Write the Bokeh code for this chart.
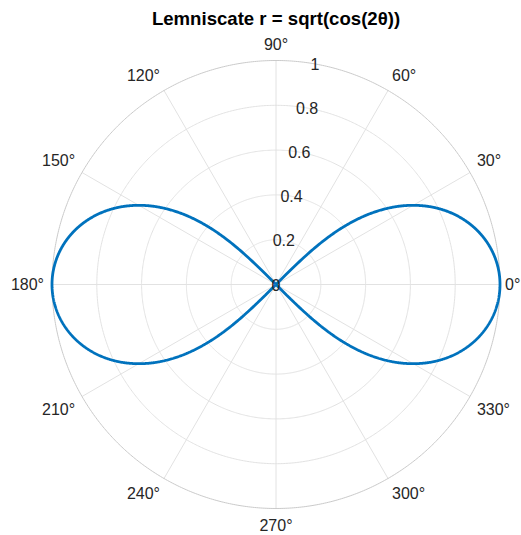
import numpy as np
from bokeh.plotting import figure
from bokeh.models import ColumnDataSource
from bokeh.core.properties import value
from bokeh.embed import file_html
from bokeh.resources import INLINE

# ---- data ----
title_text = "Lemniscate r = sqrt(cos(2\u03b8))"
theta_ticks_deg = [0, 30, 60, 90, 120, 150, 180, 210, 240, 270, 300, 330]
theta_tick_labels = ["0\u00b0", "30\u00b0", "60\u00b0", "90\u00b0", "120\u00b0", "150\u00b0",
                     "180\u00b0", "210\u00b0", "240\u00b0", "270\u00b0", "300\u00b0", "330\u00b0"]
r_ticks = [0, 0.2, 0.4, 0.6, 0.8, 1.0]
r_tick_labels = ["0", "0.2", "0.4", "0.6", "0.8", "1"]
r_label_angle_deg = 80
r_max = 1.0

# curve as defined by the title: r = sqrt(cos(2θ)) where cos(2θ) >= 0
lobe1_theta = np.linspace(-np.pi / 4, np.pi / 4, 721)
lobe2_theta = np.linspace(3 * np.pi / 4, 5 * np.pi / 4, 721)

def lobe_xy(th):
    r = np.sqrt(np.clip(np.cos(2 * th), 0, None))
    return r * np.cos(th), r * np.sin(th)

# ---- geometry (pixels) ----
W, H = 521, 535
cx_px, cy_px = 275.5, 284.0   # centre inside the figure (from top-left)
R_px = 224.0
font = "Liberation Sans"
txt_color = "#262626"

p = figure(width=W, height=H, output_backend="svg", toolbar_location=None,
           x_range=(-cx_px / R_px, (W - cx_px) / R_px),
           y_range=(-(H - cy_px) / R_px, cy_px / R_px),
           min_border=0, min_border_left=0, min_border_right=0,
           min_border_top=0, min_border_bottom=0)
p.axis.visible = False
p.grid.visible = False
p.outline_line_color = None
p.background_fill_color = "white"
p.border_fill_color = "white"

# radial grid lines
for d in theta_ticks_deg:
    t = np.deg2rad(d)
    p.line([0, r_max * np.cos(t)], [0, r_max * np.sin(t)], line_color="#e2e2e2", line_width=1)

# circles
circ_t = np.linspace(0, 2 * np.pi, 721)
for rv in r_ticks[1:-1]:
    p.line(rv * np.cos(circ_t), rv * np.sin(circ_t), line_color="#e2e2e2", line_width=1)
p.line(r_max * np.cos(circ_t), r_max * np.sin(circ_t), line_color="#cacaca", line_width=1)

# curve
for th in (lobe1_theta, lobe2_theta):
    x, y = lobe_xy(th)
    p.line(x, y, line_color="#0072BD", line_width=2.8)

# angular labels
tx, ty, ta, tb = [], [], [], []
for d in theta_ticks_deg:
    t = np.deg2rad(d)
    c, s = np.cos(t), np.sin(t)
    off = (5.0 if d == 0 else 8.0) / R_px
    tx.append((r_max + off) * c)
    ty.append((r_max + off) * s)
    ta.append("left" if c > 0.01 else ("right" if c < -0.01 else "center"))
    tb.append("bottom" if s > 0.01 else ("top" if s < -0.01 else "middle"))
src = ColumnDataSource(dict(x=tx, y=ty, text=theta_tick_labels, align=ta, base=tb))
p.text(x="x", y="y", text="text", source=src, text_align="align", text_baseline="base",
       text_font=value(font), text_font_size="16px", text_color=txt_color)

# radial labels
ra = np.deg2rad(r_label_angle_deg)
rsrc = ColumnDataSource(dict(x=[rv * np.cos(ra) for rv in r_ticks],
                             y=[rv * np.sin(ra) for rv in r_ticks],
                             text=r_tick_labels))
p.text(x="x", y="y", text="text", source=rsrc, text_align="center", text_baseline="middle",
       text_font=value(font), text_font_size="16px", text_color=txt_color)

# title
p.text(x=[0.0], y=[(cy_px - 18) / R_px], text=[title_text],
       text_align="center", text_baseline="middle", text_font=value(font),
       text_font_size="18.6px", text_font_style="bold", text_color="black")

open("out.html", "w").write(file_html(p, INLINE))
